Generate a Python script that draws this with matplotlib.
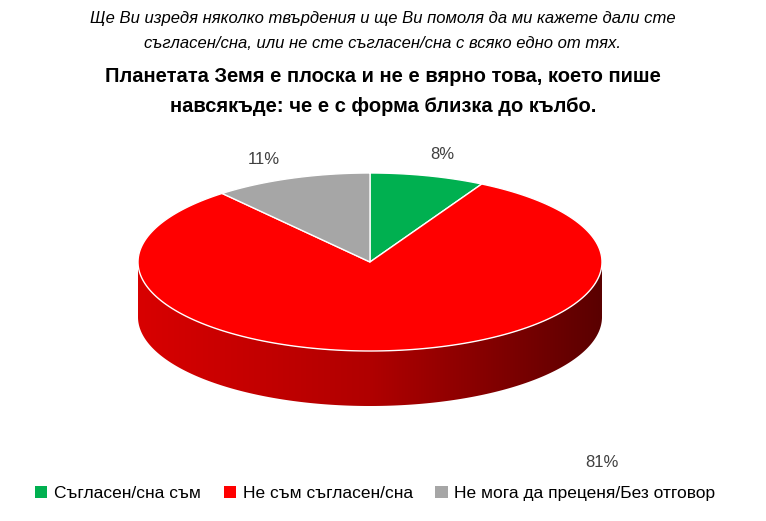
import numpy as np
import matplotlib.pyplot as plt
from matplotlib.patches import Polygon, Patch
from matplotlib.colors import LinearSegmentedColormap

categories = ["Съгласен/сна съм", "Не съм съгласен/сна", "Не мога да преценя/Без отговор"]
values = [8, 81, 11]
colors = ["#00b050", "#ff0000", "#a6a6a6"]
# label placement: radius factor along mid angle plus a pixel nudge
label_r = [1.25, 1.0, 1.22]
label_nudge = [(0, 0), (210, 112), (-10, 0)]

FONT = "Liberation Sans"
cx, cy, rx, ry, depth = 370, 262, 232, 89, 55

fig = plt.figure(figsize=(7.66, 5.21), dpi=100)
ax = fig.add_axes([0, 0, 1, 1])
ax.axis("off")


def pt(t, dy=0):
    return cx + rx * np.cos(t), cy - ry * np.sin(t) + dy


# side (front half) with gradient
t = np.linspace(np.pi, 2 * np.pi, 200)
top = np.column_stack(pt(t))
bot = np.column_stack(pt(t[::-1], depth))
side = np.vstack([top, bot])
poly = Polygon(side, closed=True, facecolor="none", edgecolor="none")
ax.add_patch(poly)
grad = np.linspace(0, 1, 256).reshape(1, -1)
cmap = LinearSegmentedColormap.from_list("side", ["#d80000", "#b00000", "#5a0000"])
im = ax.imshow(grad, cmap=cmap, extent=[cx - rx, cx + rx, cy + ry + depth, cy - 5],
               aspect="auto", zorder=1)
im.set_clip_path(poly)
ax.set_xlim(0, 766)
ax.set_ylim(521, 0)

# top slices, clockwise from top
fr = np.array(values) / sum(values)
start = np.pi / 2
for i, (f, c) in enumerate(zip(fr, colors)):
    end = start - f * 2 * np.pi
    tt = np.linspace(start, end, 200)
    xs, ys = pt(tt)
    verts = np.vstack([[cx, cy], np.column_stack([xs, ys])])
    ax.add_patch(Polygon(verts, closed=True, facecolor=c, edgecolor="white", lw=1, zorder=2))
    mid = (start + end) / 2
    k = label_r[i]
    dx, dy = label_nudge[i]
    ax.text(cx + rx * k * np.cos(mid) + dx, cy - ry * k * np.sin(mid) + dy, f"{values[i]}%",
            ha="center", va="center", fontsize=12, family=FONT, color="#404040", zorder=3)
    start = end

ax.text(383, 18, "Ще Ви изредя няколко твърдения и ще Ви помоля да ми кажете дали сте",
        ha="center", va="center", fontsize=12, style="italic", family=FONT)
ax.text(383, 43, "съгласен/сна, или не сте съгласен/сна с всяко едно от тях.",
        ha="center", va="center", fontsize=12, style="italic", family=FONT)
ax.text(383, 76, "Планетата Земя е плоска и не е вярно това, което пише",
        ha="center", va="center", fontsize=14.5, weight="bold", family=FONT)
ax.text(383, 106, "навсякъде: че е с форма близка до кълбо.",
        ha="center", va="center", fontsize=14.5, weight="bold", family=FONT)

handles = [Patch(facecolor=c, label=l) for c, l in zip(colors, categories)]
fig.legend(handles=handles, loc="center", bbox_to_anchor=(0.49, 0.053), ncol=3, frameon=False,
           prop={"family": FONT, "size": 12.5}, handlelength=0.7, handleheight=0.7,
           handletextpad=0.4, columnspacing=1.3)

fig.savefig("out.png", dpi=100)
